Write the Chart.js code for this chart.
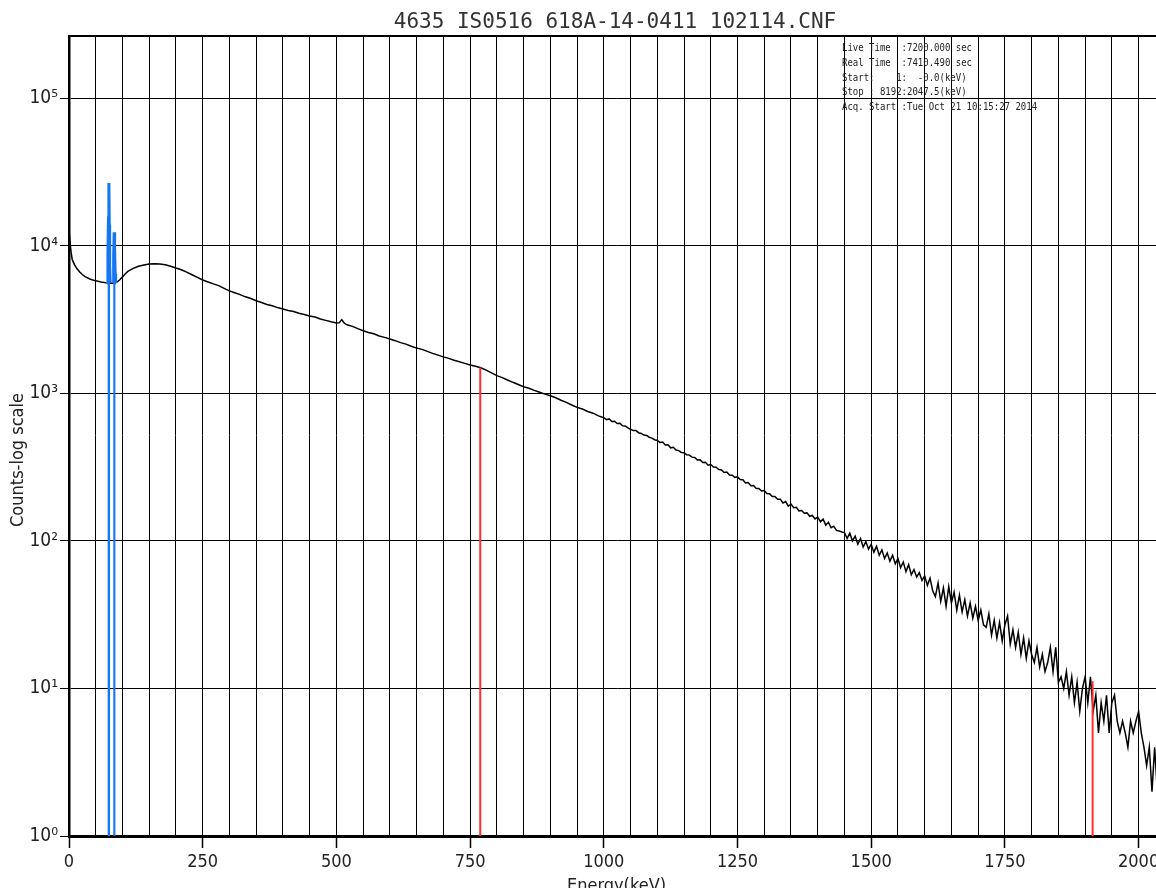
<!DOCTYPE html>
<html><head><meta charset="utf-8">
<script src="https://cdn.jsdelivr.net/npm/chart.js@4.4.1/dist/chart.umd.min.js"></script>
<style>
html,body{margin:0;padding:0;background:#fff;overflow:hidden;width:1156px;height:888px;}
#wrap{position:absolute;left:0;top:0;width:1170px;height:888px;}
</style></head><body>
<div id="wrap"><canvas id="c" width="1170" height="888"></canvas></div>
<script>
// ---- texts ----
const chartTitle = "4635 IS0516 618A-14-0411 102114.CNF";
const xAxisTitle = "Energy(keV)";
const yAxisTitle = "Counts-log scale";
const infoLines = [
  "Live Time  :7200.000 sec",
  "Real Time  :7410.490 sec",
  "Start:    1:  -0.0(keV)",
  "Stop : 8192:2047.5(keV)",
  "Acq. Start :Tue Oct 21 10:15:27 2014"
];
// ---- axis ticks ----
const xTickLabels = [0, 250, 500, 750, 1000, 1250, 1500, 1750, 2000];
const yTickValues = [1, 10, 100, 1000, 10000, 100000];
const yTickExponents = ["\u2070", "\u00b9", "\u00b2", "\u00b3", "\u2074", "\u2075"];
// ---- spectrum (energy keV, counts) ----
const energyKeV = [
  0,2,4,6,10,15,20,25,30,40,50,60,70,75,80,85,90,95,100,105,110,120,130,140,150,160,170,180,190,200,
  210,220,230,240,250,260,270,280,290,300,310,320,330,340,350,360,370,380,390,400,410,420,430,440,450,
  460,470,480,490,500,505,510,515,520,530,540,550,560,570,580,590,600,610,620,630,640,650,660,670,680,
  690,700,710,720,730,740,750,760,770,780,790,800,810,820,830,840,850,860,870,880,890,900,910,920,930,
  940,950,960,970,980,990,
  1000,1005,1010,1015,1020,1025,1030,1035,1040,1045,1050,1055,1060,1065,1070,1075,1080,1085,1090,1095,
  1100,1105,1110,1115,1120,1125,1130,1135,1140,1145,1150,1155,1160,1165,1170,1175,1180,1185,1190,1195,
  1200,1205,1210,1215,1220,1225,1230,1235,1240,1245,1250,1255,1260,1265,1270,1275,1280,1285,1290,1295,
  1300,1305,1310,1315,1320,1325,1330,1335,1340,1345,1350,1355,1360,1365,1370,1375,1380,1385,1390,1395,
  1400,1405,1410,1415,1420,1425,1430,1435,1440,1445,1450,1455,1460,1465,1470,1475,1480,1485,1490,1495,
  1500,1505,1510,1515,1520,1525,1530,1535,1540,1545,1550,1555,1560,1565,1570,1575,1580,1585,1590,1595,
  1600,1605,1610,1615,1620,1625,1630,1635,1640,1645,1650,1655,1660,1665,1670,1675,1680,1685,1690,1695,
  1700,1705,1710,1715,1720,1725,1730,1735,1740,1745,1750,1755,1760,1765,1770,1775,1780,1785,1790,1795,
  1800,1805,1810,1815,1820,1825,1830,1835,1840,1845,1850,1855,1860,1865,1870,1875,1880,1885,1890,1895,
  1900,1905,1910,1915,1920,1925,1930,1935,1940,1945,1950,1955,1960,1965,1970,1975,1980,1985,1990,1995,
  2000,2005,2010,2015,2020,2025,2030,2035,2040,2045
];
const counts = [
  12800,10500,9000,8100,7500,7000,6650,6400,6200,5950,5800,5700,5620,5560,5600,5560,5700,5900,6170,6450,6720,7050,7280,7430,7550,7580,7550,7450,7280,7080,
  6900,6650,6380,6120,5880,5700,5530,5380,5160,4960,4820,4680,4520,4400,4250,4140,4010,3930,3820,3740,3650,3590,3500,3430,3350,
  3300,3200,3130,3060,3000,3010,3160,2990,2920,2850,2750,2660,2590,2540,2450,2400,2340,2280,2210,2160,2090,2030,1990,1930,1870,
  1820,1770,1730,1680,1640,1600,1560,1530,1495,1440,1380,1320,1280,1235,1190,1150,1110,1085,1050,1020,990,965,935,900,870,
  835,805,785,755,735,705,
  685,664,672,645,648,626,628,604,602,584,572,560,561,542,536,522,519,505,498,486,
  480,466,469,448,449,428,432,414,410,398,397,384,382,370,368,354,355,340,342,326,
  330,317,316,305,303,291,293,280,279,270,272,261,260,247,249,237,238,227,227,218,
  220,210,209,200,200,192,192,181,185,172,178,168,169,160,161,154,155,147,149,141,
  145,135,141,128,134,123,126,118,117,115,114,104,113,100,108,95,104,91,99,88,
  95,84,92,80,87,76,83,73,80,70,76,66,72,62,69,59,64,57,61,54,
  58,50,56,46,42,52,39,48,36,49,38,45,34,43,33,40,31,38,30,36,
  29,34,27,26,32,23,29,22,28,21,27,31,20,25,19,24,17,22,16,21,
  17,15,19,14,17,13,15,19,13,19,11,12,10,13,9,12,8,11,7,10,
  12,8,12,7,9,5,8,6,9,5,8,9,6,5,6,5,4,6,5,6,
  7,5,4,3,4,2,4,2,3,2
];
// ---- ROI peaks (blue) ----
const roi1KeV = [71.8, 72.8, 73.8, 74.6, 75.3, 76.0, 77.0];
const roi1Counts = [5600, 9000, 15500, 26700, 14000, 7500, 5600];
const roi2KeV = [82.6, 83.5, 84.5, 85.3, 86.3, 87.2];
const roi2Counts = [5600, 8500, 12400, 9500, 6500, 5600];
// ---- markers (red) ----
const markerKeV = [769, 1914];
const markerCounts = [1500, 11.2];

const FONT = "'DejaVu Sans Condensed', 'DejaVu Sans', sans-serif";
const pts = (xs, ys) => xs.map((x, i) => ({x: x, y: ys[i]}));

const decor = {
  id: 'decor',
  afterDraw(chart) {
    const c = chart.ctx, a = chart.chartArea;
    c.save();
    // top border
    c.strokeStyle = '#000'; c.lineWidth = 2;
    c.beginPath(); c.moveTo(a.left, a.top); c.lineTo(a.right, a.top); c.stroke();
    // title
    c.fillStyle = '#333'; c.font = "21px 'DejaVu Sans Mono', monospace";
    c.textAlign = 'center'; c.textBaseline = 'alphabetic';
    c.fillText(chartTitle, 615, 28);
    // info box
    c.fillStyle = '#222'; c.font = "10px 'DejaVu Sans Mono', monospace"; c.textAlign = 'left';
    infoLines.forEach((t, i) => {
      c.save(); c.translate(842, 51 + 14.8 * i); c.scale(0.9, 1); c.fillText(t, 0, 0); c.restore();
    });
    // x title
    c.fillStyle = '#222'; c.font = "18px " + FONT; c.textAlign = 'center';
    c.fillText(xAxisTitle, (a.left + a.right) / 2, 891);
    // y title
    c.translate(18, 460); c.rotate(-Math.PI / 2);
    c.textBaseline = 'middle';
    c.fillText(yAxisTitle, 0, 0);
    c.restore();
  }
};

new Chart(document.getElementById('c'), {
  type: 'line',
  data: {
    datasets: [
      {label: 'Spectrum', data: pts(energyKeV, counts), borderColor: '#000', borderWidth: 1.5,
       pointRadius: 0, tension: 0, fill: false, order: 3},
      {label: 'ROI 1', data: pts(roi1KeV, roi1Counts), borderColor: '#1476f2', backgroundColor: '#1476f2',
       borderWidth: 3, pointRadius: 0, tension: 0, fill: 'start', order: 1},
      {label: 'ROI 2', data: pts(roi2KeV, roi2Counts), borderColor: '#1476f2', backgroundColor: '#1476f2',
       borderWidth: 3, pointRadius: 0, tension: 0, fill: 'start', order: 1},
      {label: 'Marker 1', data: [{x: markerKeV[0], y: 1}, {x: markerKeV[0], y: markerCounts[0]}],
       borderColor: '#ff2d2d', borderWidth: 2, pointRadius: 0, fill: false, order: 2},
      {label: 'Marker 2', data: [{x: markerKeV[1], y: 1}, {x: markerKeV[1], y: markerCounts[1]}],
       borderColor: '#ff2d2d', borderWidth: 2, pointRadius: 0, fill: false, order: 2}
    ]
  },
  options: {
    responsive: false, animation: false, devicePixelRatio: 1,
    layout: {padding: {left: 0, right: 6, top: 36, bottom: 0}},
    plugins: {legend: {display: false}, tooltip: {enabled: false}, title: {display: false}},
    scales: {
      x: {
        type: 'linear', min: 0, max: 2047.5,
        afterBuildTicks: (s) => { const t = []; for (let v = 0; v <= 2000; v += 50) t.push({value: v}); s.ticks = t; },
        afterFit: (s) => { s.height = 52; },
        ticks: {autoSkip: false, maxRotation: 0, padding: 4, color: '#222', font: {family: FONT, size: 18},
                callback: (v) => xTickLabels.includes(v) ? String(v) : ''},
        grid: {color: '#000', lineWidth: 1, tickLength: 12, tickWidth: 1.5,
               tickColor: (c) => (c.tick && xTickLabels.includes(c.tick.value)) ? '#000' : 'rgba(0,0,0,0)'},
        border: {display: true, color: '#000', width: 3}
      },
      y: {
        type: 'logarithmic', min: 1, max: 265000,
        afterBuildTicks: (s) => { s.ticks = yTickValues.map(v => ({value: v})); },
        afterFit: (s) => { s.width = 69; },
        ticks: {padding: 2, color: '#222', font: {family: FONT, size: 19},
                callback: (v) => '10' + yTickExponents[yTickValues.indexOf(v)]},
        grid: {color: '#000', lineWidth: 1, tickLength: 9, tickColor: '#000'},
        border: {display: true, color: '#000', width: 2.5}
      }
    }
  },
  plugins: [decor]
});
</script>
</body></html>
